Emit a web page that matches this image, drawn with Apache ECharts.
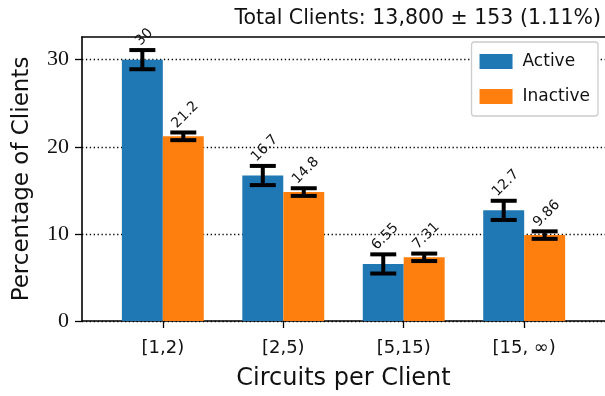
<!DOCTYPE html>
<html>
<head>
<meta charset="utf-8">
<script src="https://cdn.jsdelivr.net/npm/echarts@6/dist/echarts.min.js"></script>
<style>
  html, body { margin: 0; padding: 0; background: #fff; }
  #chart { width: 605px; height: 396px; }
</style>
</head>
<body>
<div id="chart"></div>
<script>
// Share of clients by number of circuits, split by client activity
const categories = ['[1,2)', '[2,5)', '[5,15)', '[15, \u221e)'];
const activeValues = [30, 16.7, 6.55, 12.7];
const inactiveValues = [21.2, 14.8, 7.31, 9.86];
const activeErrors = [1.1, 1.1, 1.1, 1.1];
const inactiveErrors = [0.44, 0.44, 0.43, 0.43];
const valueLabelsActive = ['30', '16.7', '6.55', '12.7'];
const valueLabelsInactive = ['21.2', '14.8', '7.31', '9.86'];
const yTicks = [0, 10, 20, 30];
const titleText = 'Total Clients: 13,800 \u00b1 153 (1.11%)';

const SANS = '"DejaVu Sans", sans-serif';
const SERIF = '"Liberation Serif", "DejaVu Serif", serif';
const BAR_FRAC = 0.34;   // bar width in category units
const LABEL_FONT = '14px ' + SANS;

const measureCtx = document.createElement('canvas').getContext('2d');
function textWidth(t, font) { measureCtx.font = font; return measureCtx.measureText(t).width; }

function barData(vals) { return vals.map((v, i) => [i, v]); }
function errData(vals, errs) { return vals.map((v, i) => [i, v, errs[i]]); }
const labelsBySide = { '-1': valueLabelsActive, '1': valueLabelsInactive };

// error bar plus 45-degree value label, shifted to the bar's centre
function makeErrorRender(side) {
  return function (params, api) {
    const x = api.value(0), v = api.value(1), e = api.value(2);
    const label = labelsBySide[side][params.dataIndex];
    const half = api.size([BAR_FRAC, 0])[0] / 2;
    const top = api.coord([x, v + e]);
    const bot = api.coord([x, v - e]);
    const cx = top[0] + side * half;
    const capW = 13;
    const lineStyle = { stroke: '#000', lineWidth: 4 };
    const w = textWidth(label, LABEL_FONT), h = 13;
    const d = (w + h) / (2 * Math.SQRT2);
    const anchorY = top[1] - 2;
    return {
      type: 'group',
      children: [
        { type: 'line', shape: { x1: cx, y1: top[1], x2: cx, y2: bot[1] }, style: lineStyle },
        { type: 'line', shape: { x1: cx - capW, y1: top[1], x2: cx + capW, y2: top[1] }, style: lineStyle },
        { type: 'line', shape: { x1: cx - capW, y1: bot[1], x2: cx + capW, y2: bot[1] }, style: lineStyle },
        {
          type: 'text', x: cx + 2, y: anchorY - d, rotation: Math.PI / 4,
          style: { text: label, x: 0, y: 0, align: 'center', verticalAlign: 'middle', font: LABEL_FONT, fill: '#111' }
        }
      ]
    };
  };
}

const chart = echarts.init(document.getElementById('chart'), null, { renderer: 'canvas' });
chart.setOption({
  animation: false,
  title: {
    text: titleText, right: -1, top: 3,
    textStyle: { fontFamily: SANS, fontSize: 20.5, fontWeight: 'normal', color: '#111' }
  },
  legend: {
    orient: 'vertical', right: 7, top: 42,
    itemWidth: 33, itemHeight: 15, itemGap: 18,
    padding: [11, 8, 11, 8],
    icon: 'rect',
    borderColor: '#ccc', borderWidth: 1.3, borderRadius: 3,
    backgroundColor: '#fff',
    textStyle: { fontFamily: SANS, fontSize: 17, color: '#111', padding: [0, 0, 0, 5] },
    data: ['Active', 'Inactive']
  },
  grid: { left: 82, right: -3, top: 37, bottom: 74, containLabel: false },
  xAxis: [{
    type: 'value', min: -0.671, max: 3.671,
    name: 'Circuits per Client', nameLocation: 'middle', nameGap: 46,
    nameTextStyle: { fontFamily: SANS, fontSize: 24, color: '#111' },
    axisLine: { show: true, onZero: false, lineStyle: { color: '#000', width: 1.6 } },
    axisTick: { show: true, length: 7, lineStyle: { color: '#000', width: 1.3 }, customValues: [0, 1, 2, 3] },
    axisLabel: {
      customValues: [0, 1, 2, 3], margin: 18,
      fontFamily: SANS, fontSize: 18, color: '#111',
      formatter: v => categories[Math.round(v)]
    },
    splitLine: { show: false }
  }, {
    type: 'value', position: 'top', min: -0.671, max: 3.671,
    axisLine: { show: true, onZero: false, lineStyle: { color: '#000', width: 1.6 } },
    axisTick: { show: false }, axisLabel: { show: false }, splitLine: { show: false }
  }],
  yAxis: {
    type: 'value', min: 0, max: 32.6, interval: 10,
    name: 'Percentage of Clients', nameLocation: 'middle', nameGap: 48,
    nameTextStyle: { fontFamily: SANS, fontSize: 23, color: '#111' },
    axisLine: { show: true, onZero: false, lineStyle: { color: '#000', width: 1.6 } },
    axisTick: { show: true, length: 7, lineStyle: { color: '#000', width: 1.3 }, customValues: yTicks },
    axisLabel: {
      customValues: yTicks, margin: 13,
      fontFamily: SERIF, fontSize: 22, color: '#111'
    },
    splitLine: { show: true, lineStyle: { color: '#000', width: 1.3, type: [1.3, 2.6] } }
  },
  series: [
    { name: 'Active', type: 'bar', data: barData(activeValues), barWidth: (BAR_FRAC * 100) + '%', barGap: '0%',
      itemStyle: { color: '#1f77b4' }, z: 2 },
    { name: 'Inactive', type: 'bar', data: barData(inactiveValues), barWidth: (BAR_FRAC * 100) + '%', barGap: '0%',
      itemStyle: { color: '#ff7f0e' }, z: 2 },
    { type: 'custom', data: errData(activeValues, activeErrors),
      renderItem: makeErrorRender(-1), z: 5, silent: true },
    { type: 'custom', data: errData(inactiveValues, inactiveErrors),
      renderItem: makeErrorRender(1), z: 5, silent: true }
  ]
});
</script>
</body>
</html>
